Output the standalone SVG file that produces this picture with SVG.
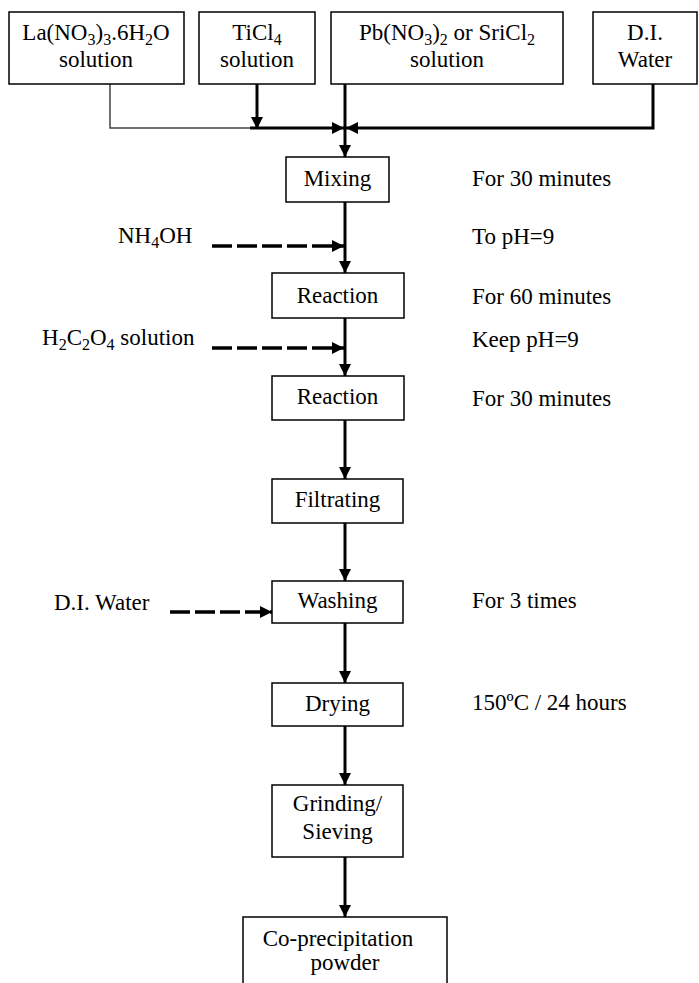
<svg xmlns="http://www.w3.org/2000/svg" width="699" height="983" viewBox="0 0 699 983" font-family="'Liberation Serif', 'Times New Roman', 'DejaVu Serif', serif">
<defs>
<style>
text{font-family:'Liberation Serif','Times New Roman','DejaVu Serif',serif;font-size:23px;fill:#000}
.c{text-anchor:middle}
.s{font-size:16px}
.box{fill:#fff;stroke:#000;stroke-width:1.5}
.ln{fill:none;stroke:#000;stroke-width:3}
.thin{fill:none;stroke:#444;stroke-width:1.5}
.dash{fill:none;stroke:#000;stroke-width:3.5;stroke-dasharray:20,5}
</style>
<marker id="ah" viewBox="0 0 10 10" refX="10" refY="5" markerWidth="12" markerHeight="12" markerUnits="userSpaceOnUse" orient="auto">
<path d="M0,0 L10,5 L0,10 Z" fill="#000"/>
</marker>
</defs>
<rect width="699" height="983" fill="#fff"/>
<g id="connectors">
<polyline class="thin" points="110,84 110,128 250,128"/>
<line class="ln" x1="250" y1="128" x2="344" y2="128" marker-end="url(#ah)"/>
<line class="ln" x1="257" y1="84" x2="257" y2="129" marker-end="url(#ah)"/>
<polyline class="ln" points="653,84 653,128 400,128"/>
<line class="ln" x1="400" y1="128" x2="346" y2="128" marker-end="url(#ah)"/>
<line class="ln" x1="345" y1="84" x2="345" y2="157" marker-end="url(#ah)"/>
<line class="ln" x1="345" y1="202" x2="345" y2="273" marker-end="url(#ah)"/>
<line class="dash" x1="212" y1="246" x2="344" y2="246" marker-end="url(#ah)"/>
<line class="ln" x1="345" y1="318" x2="345" y2="376" marker-end="url(#ah)"/>
<line class="dash" x1="212" y1="348" x2="344" y2="348" marker-end="url(#ah)"/>
<line class="ln" x1="345" y1="420" x2="345" y2="479" marker-end="url(#ah)"/>
<line class="ln" x1="345" y1="523" x2="345" y2="581" marker-end="url(#ah)"/>
<line class="dash" x1="170" y1="612" x2="272" y2="612" marker-end="url(#ah)"/>
<line class="ln" x1="345" y1="623" x2="345" y2="683" marker-end="url(#ah)"/>
<line class="ln" x1="345" y1="726" x2="345" y2="785" marker-end="url(#ah)"/>
<line class="ln" x1="345" y1="857" x2="345" y2="917" marker-end="url(#ah)"/>
</g>
<g id="la">
<rect class="box" x="9" y="12" width="175" height="72"/>
<text class="c" x="96" y="40">La(NO<tspan class="s" dy="5">3</tspan><tspan dy="-5">)</tspan><tspan class="s" dy="5">3</tspan><tspan dy="-5">.6H</tspan><tspan class="s" dy="5">2</tspan><tspan dy="-5">O</tspan></text>
<text class="c" x="96" y="67">solution</text>
</g>
<g id="ticl4">
<rect class="box" x="199" y="12" width="116" height="72"/>
<text class="c" x="257" y="40">TiCl<tspan class="s" dy="5">4</tspan></text>
<text class="c" x="257" y="67">solution</text>
</g>
<g id="pb">
<rect class="box" x="331" y="12" width="232" height="72"/>
<text class="c" x="447" y="40">Pb(NO<tspan class="s" dy="5">3</tspan><tspan dy="-5">)</tspan><tspan class="s" dy="5">2</tspan><tspan dy="-5"> or SriCl</tspan><tspan class="s" dy="5">2</tspan></text>
<text class="c" x="447" y="67">solution</text>
</g>
<g id="diwater">
<rect class="box" x="593" y="12" width="104" height="72"/>
<text class="c" x="645" y="40">D.I.</text>
<text class="c" x="645" y="67">Water</text>
</g>
<g id="mixing">
<rect class="box" x="286" y="157" width="103" height="45"/>
<text class="c" x="337.5" y="186">Mixing</text>
</g>
<g id="reaction1">
<rect class="box" x="272" y="273" width="132" height="45"/>
<text class="c" x="337.5" y="303">Reaction</text>
</g>
<g id="reaction2">
<rect class="box" x="272" y="376" width="132" height="44"/>
<text class="c" x="337.5" y="404">Reaction</text>
</g>
<g id="filtrating">
<rect class="box" x="272" y="479" width="131" height="44"/>
<text class="c" x="337.5" y="507">Filtrating</text>
</g>
<g id="washing">
<rect class="box" x="272" y="581" width="131" height="42"/>
<text class="c" x="337.5" y="608">Washing</text>
</g>
<g id="drying">
<rect class="box" x="272" y="683" width="131" height="43"/>
<text class="c" x="337.5" y="711">Drying</text>
</g>
<g id="grinding">
<rect class="box" x="272" y="785" width="131" height="72"/>
<text class="c" x="337.5" y="811">Grinding/</text>
<text class="c" x="337.5" y="839">Sieving</text>
</g>
<g id="powder">
<rect class="box" x="243" y="917" width="204" height="80"/>
<text class="c" x="338" y="946">Co-precipitation</text>
<text class="c" x="345" y="970">powder</text>
</g>
<g id="labels">
<text x="118" y="243">NH<tspan class="s" dy="5">4</tspan><tspan dy="-5">OH</tspan></text>
<text x="42" y="345">H<tspan class="s" dy="5">2</tspan><tspan dy="-5">C</tspan><tspan class="s" dy="5">2</tspan><tspan dy="-5">O</tspan><tspan class="s" dy="5">4</tspan><tspan dy="-5"> solution</tspan></text>
<text x="54" y="610">D.I. Water</text>
<text x="472" y="186">For 30 minutes</text>
<text x="472" y="244">To pH=9</text>
<text x="472" y="304">For 60 minutes</text>
<text x="472" y="347">Keep pH=9</text>
<text x="472" y="406">For 30 minutes</text>
<text x="472" y="608">For 3 times</text>
<text x="472" y="710">150ºC / 24 hours</text>
</g>
</svg>
